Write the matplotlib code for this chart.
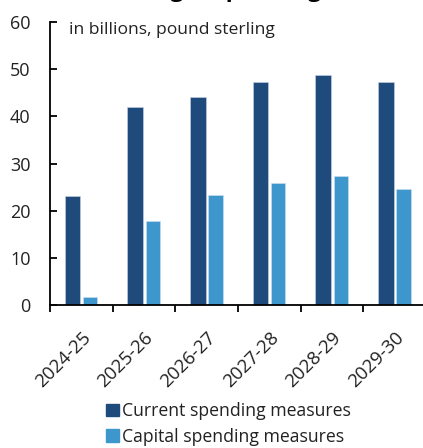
import matplotlib
matplotlib.use("Agg")
import matplotlib.pyplot as plt
import matplotlib.patches as mpatches
import numpy as np

plt.rcParams['font.family'] = ['Open Sans', 'DejaVu Sans']

# Datos (miles de millones de libras)
years = ["2024-25", "2025-26", "2026-27", "2027-28", "2028-29", "2029-30"]
current_spending = [23.2, 41.9, 44.2, 47.3, 48.8, 47.3]
capital_spending = [1.8, 17.9, 23.4, 25.8, 27.4, 24.6]

color_current = "#1f4a7c"
color_capital = "#3d97cc"
text_color = "#222222"

fig = plt.figure(figsize=(4.23, 4.48), dpi=100)
ax = fig.add_axes([50 / 423, 1 - 305 / 448, 373 / 423, 283 / 448])

x = np.arange(len(years))
ax.bar(x - 0.14, current_spending, width=0.25, color=color_current,
       edgecolor="#c9d6e6", linewidth=0.4)
ax.bar(x + 0.14, capital_spending, width=0.23, color=color_capital,
       edgecolor="#cfe3f1", linewidth=0.4)

ax.set_xlim(-0.5, 5.45)
ax.set_ylim(0, 60)

# Ejes: solo izquierda y abajo
for side in ["top", "right"]:
    ax.spines[side].set_visible(False)
ax.spines["left"].set_linewidth(1.3)
ax.spines["bottom"].set_linewidth(1.3)

ax.set_yticks(range(0, 61, 10))
ax.tick_params(axis="y", direction="in", length=5, width=1.3, pad=14,
               labelsize=13, labelcolor=text_color)

# Marcas entre grupos, etiquetas en el centro de cada grupo
ax.set_xticks(x - 0.5)
ax.set_xticklabels([])
ax.set_xticks(x, minor=True)
ax.set_xticklabels(years, minor=True, rotation=45, ha="right",
                   rotation_mode="anchor", fontsize=13.5, color=text_color)
ax.tick_params(axis="x", which="major", direction="out", length=5, width=1.3)
ax.tick_params(axis="x", which="minor", length=0, pad=17)

ax.text(19 / 373, 0.97, "in billions, pound sterling",
        transform=ax.transAxes, fontsize=12.6, color=text_color,
        ha="left", va="center")

fig.text(124 / 423, 1 + 3.5 / 448, "Budget spending", fontsize=17,
         fontweight="bold", color="black", ha="left", va="baseline")

handles = [mpatches.Patch(color=color_current, label="Current spending measures"),
           mpatches.Patch(color=color_capital, label="Capital spending measures")]
fig.legend(handles=handles, loc="upper left",
           bbox_to_anchor=(106 / 423, 1 - 402 / 448), frameon=False,
           fontsize=12.7, handlelength=0.72, handleheight=0.72,
           handletextpad=0.2, labelspacing=0.45, borderaxespad=0,
           borderpad=0, labelcolor=text_color)

fig.savefig("out.png", dpi=100)
